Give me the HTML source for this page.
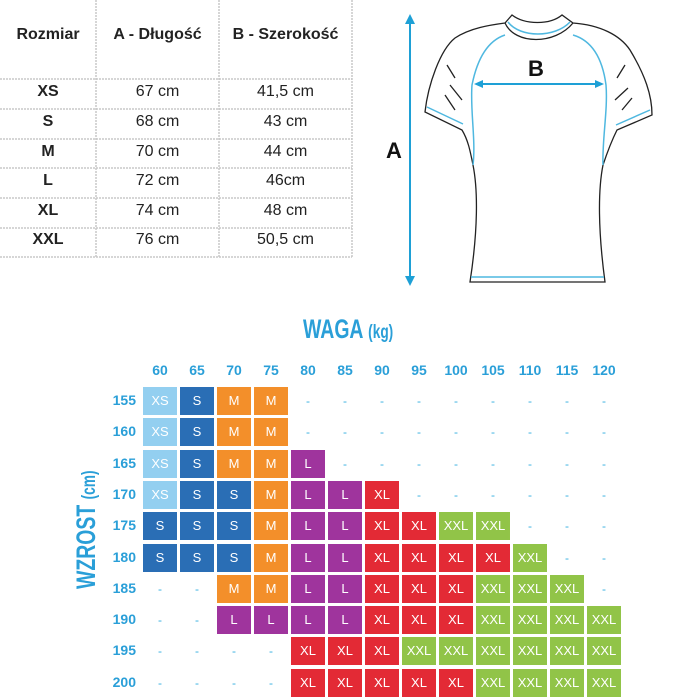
<!DOCTYPE html>
<html><head><meta charset="utf-8">
<style>
body{margin:0;width:700px;height:700px;background:#fff;position:relative;overflow:hidden;font-family:"Liberation Sans",sans-serif}
.t{position:absolute;color:#222;font-size:16px;text-align:center}
.c{position:absolute;width:34px;height:28px;color:#fff;font-size:13px;line-height:28px;text-align:center;opacity:.95}
.d{position:absolute;width:34px;height:28px;color:#3ab0e0;font-size:12px;line-height:28px;text-align:center}
.lb{position:absolute;color:#2a9fd8;font-weight:bold;font-size:14px}
</style></head><body>
<svg width="700" height="700" style="position:absolute;left:0;top:0">
<g stroke="#c8c8c8" stroke-width="1.5" stroke-dasharray="2,1">
<line x1="96" y1="0" x2="96" y2="257"/><line x1="219" y1="0" x2="219" y2="257"/><line x1="352" y1="0" x2="352" y2="257"/>
<line x1="0" y1="79" x2="352" y2="79"/><line x1="0" y1="109" x2="352" y2="109"/><line x1="0" y1="139" x2="352" y2="139"/>
<line x1="0" y1="168" x2="352" y2="168"/><line x1="0" y1="198" x2="352" y2="198"/><line x1="0" y1="228" x2="352" y2="228"/><line x1="0" y1="257" x2="352" y2="257"/>
</g>
<g stroke="#1ea0d6" stroke-width="2" fill="#1ea0d6">
<line x1="410" y1="18" x2="410" y2="282"/>
<polygon points="410,14 405,24 415,24" stroke="none"/><polygon points="410,286 405,276 415,276" stroke="none"/>
<line x1="478" y1="84" x2="600" y2="84"/>
<polygon points="474,84 483,80 483,88" stroke="none"/><polygon points="604,84 595,80 595,88" stroke="none"/>
</g>
<g fill="none" stroke="#222" stroke-width="1.3">
<path d="M512,15 C525,25 550,25 562,15 L573,23 C600,25 620,35 630,50 C645,75 652,95 652,115 L617,130 C612,140 608,150 603,165 C598,190 598,230 605,282 L470,282 C478,230 478,190 473,165 C470,150 468,140 462,130 L425,112 C428,85 440,50 455,38 C470,28 490,25 505,23 Z"/>
<path d="M505,23 C515,45 555,45 573,23"/>
<path d="M447,65 L455,78 M450,85 L462,100 M445,95 L455,110 M625,65 L617,78 M628,88 L615,100 M632,98 L622,110"/>
</g>
<g fill="none" stroke="#4fb8e0" stroke-width="1.5">
<path d="M508,22 C520,38 555,38 570,22"/>
<path d="M505,35 C490,40 478,55 472,85 C470,110 476,140 473,165"/>
<path d="M573,35 C590,40 602,55 606,85 C608,110 602,140 603,165"/>
<path d="M427,107 L463,124 M650,110 L616,125 M471,277 L604,277"/>
</g>
</svg>
<div class="t" style="left:0;top:26px;width:96px;font-weight:bold">Rozmiar</div>
<div class="t" style="left:96px;top:26px;width:123px;font-weight:bold">A - Długość</div>
<div class="t" style="left:219px;top:26px;width:133px;font-weight:bold">B - Szerokość</div>
<div style="position:absolute;left:0;top:83px">
<div class="t" style="left:0;top:0;width:96px;font-weight:bold">XS</div><div class="t" style="left:96px;top:0;width:123px">67 cm</div><div class="t" style="left:219px;top:0;width:133px">41,5 cm</div>
<div class="t" style="left:0;top:30px;width:96px;font-weight:bold">S</div><div class="t" style="left:96px;top:30px;width:123px">68 cm</div><div class="t" style="left:219px;top:30px;width:133px">43 cm</div>
<div class="t" style="left:0;top:60px;width:96px;font-weight:bold">M</div><div class="t" style="left:96px;top:60px;width:123px">70 cm</div><div class="t" style="left:219px;top:60px;width:133px">44 cm</div>
<div class="t" style="left:0;top:89px;width:96px;font-weight:bold">L</div><div class="t" style="left:96px;top:89px;width:123px">72 cm</div><div class="t" style="left:219px;top:89px;width:133px">46cm</div>
<div class="t" style="left:0;top:119px;width:96px;font-weight:bold">XL</div><div class="t" style="left:96px;top:119px;width:123px">74 cm</div><div class="t" style="left:219px;top:119px;width:133px">48 cm</div>
<div class="t" style="left:0;top:148px;width:96px;font-weight:bold">XXL</div><div class="t" style="left:96px;top:148px;width:123px">76 cm</div><div class="t" style="left:219px;top:148px;width:133px">50,5 cm</div>
</div>
<div style="position:absolute;left:386px;top:138px;font-size:22px;font-weight:bold;color:#111">A</div>
<div style="position:absolute;left:528px;top:56px;font-size:22px;font-weight:bold;color:#111">B</div>
<div style="position:absolute;left:303px;top:314px;white-space:nowrap;color:#2a9fd8;font-weight:bold;font-size:27px;transform:scaleX(.72);transform-origin:left">WAGA <span style="font-size:19px">(kg)</span></div>
<div style="position:absolute;left:11px;top:520px;width:150px;height:30px;line-height:30px;white-space:nowrap;text-align:center;color:#2a9fd8;font-weight:bold;font-size:27px;transform:rotate(-90deg) scaleX(.72)">WZROST <span style="font-size:19px">(cm)</span></div>
<div id="g"></div>
<script>
var rows=[
"XS S M M - - - - - - - - -",
"XS S M M - - - - - - - - -",
"XS S M M L - - - - - - - -",
"XS S S M L L XL - - - - - -",
"S S S M L L XL XL XXL XXL - - -",
"S S S M L L XL XL XL XL XXL - -",
"- - M M L L XL XL XL XXL XXL XXL -",
"- - L L L L XL XL XL XXL XXL XXL XXL",
"- - - - XL XL XL XXL XXL XXL XXL XXL XXL",
"- - - - XL XL XL XL XL XXL XXL XXL XXL"];
var col={XS:"#8ecdf0",S:"#1f67b2",M:"#f38a1f",L:"#9a2a98",XL:"#e21f2b",XXL:"#8cc13f"};
var h="";
for(var i=0;i<13;i++)h+='<div class="lb" style="left:'+(143+37*i-6)+'px;top:362px;width:46px;text-align:center">'+(60+5*i)+'</div>';
for(var j=0;j<10;j++){var y=387+31.3*j;
h+='<div class="lb" style="left:100px;top:'+(y+5)+'px;width:36px;text-align:right">'+(155+5*j)+'</div>';
var r=rows[j].split(" ");
for(var i=0;i<13;i++){var x=143+37*i;
if(r[i]=="-")h+='<div class="d" style="left:'+x+'px;top:'+y+'px">-</div>';
else h+='<div class="c" style="left:'+x+'px;top:'+y+'px;background:'+col[r[i]]+'">'+r[i]+'</div>';}}
document.getElementById("g").innerHTML=h;
</script>
</body></html>
